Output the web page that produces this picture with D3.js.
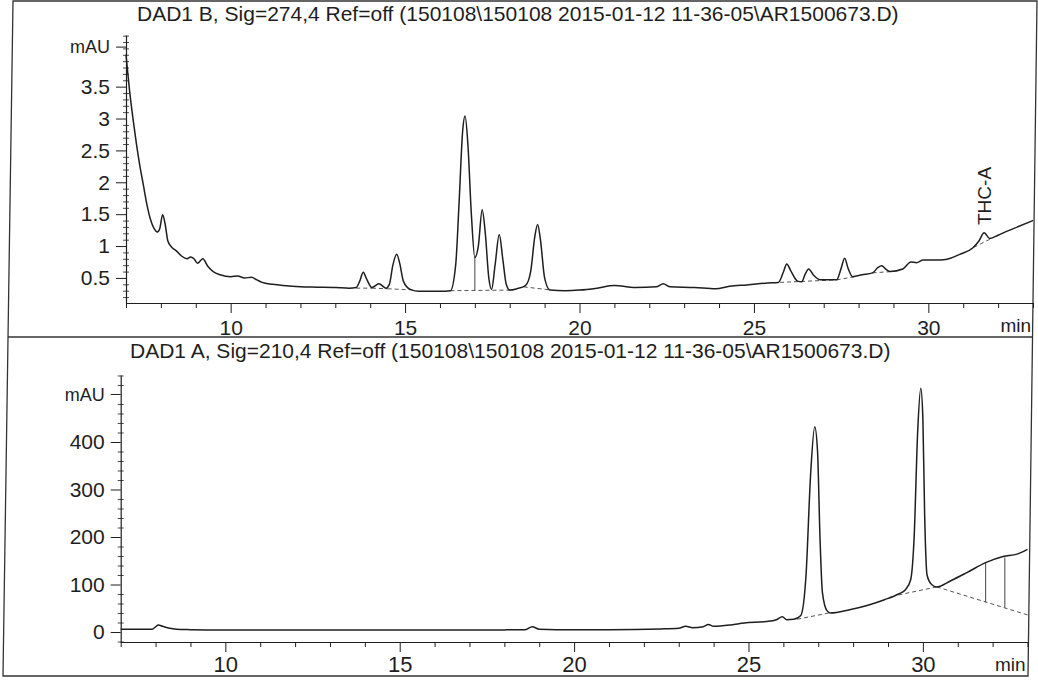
<!DOCTYPE html>
<html>
<head>
<meta charset="utf-8">
<script src="https://cdn.jsdelivr.net/npm/d3@7"></script>
<style>
body{margin:0;background:#fff;}
svg{display:block;font-family:"Liberation Sans",Arial,sans-serif;}
</style>
</head>
<body>
<div id="chart"></div>
<script>
const titleB = "DAD1 B, Sig=274,4 Ref=off (150108\\150108 2015-01-12 11-36-05\\AR1500673.D)";
const titleA = "DAD1 A, Sig=210,4 Ref=off (150108\\150108 2015-01-12 11-36-05\\AR1500673.D)";

// retention time (min), absorbance (mAU) - signal B, 274 nm
const sigB = [[7.0,4.0],[7.05,3.72],[7.1,3.45],[7.2,3.0],[7.3,2.6],[7.4,2.25],[7.5,1.95],[7.6,1.65],[7.7,1.42],[7.8,1.28],[7.9,1.22],[7.97,1.28],[8.05,1.49],[8.12,1.35],[8.2,1.08],[8.3,0.99],[8.45,0.92],[8.6,0.84],[8.75,0.8],[8.85,0.83],[8.95,0.8],[9.05,0.73],[9.2,0.8],[9.35,0.68],[9.5,0.6],[9.7,0.55],[10.0,0.52],[10.2,0.53],[10.4,0.5],[10.6,0.51],[10.75,0.47],[10.9,0.43],[11.2,0.4],[11.5,0.38],[12.0,0.36],[12.5,0.355],[13.0,0.35],[13.4,0.34],[13.6,0.35],[13.7,0.45],[13.8,0.59],[13.9,0.48],[14.05,0.35],[14.25,0.41],[14.45,0.34],[14.55,0.4],[14.65,0.7],[14.76,0.87],[14.85,0.72],[14.95,0.45],[15.15,0.32],[15.4,0.29],[16.0,0.29],[16.3,0.3],[16.45,0.7],[16.55,1.7],[16.65,2.8],[16.72,3.04],[16.8,2.6],[16.9,1.5],[17.0,0.82],[17.1,1.0],[17.21,1.57],[17.3,1.2],[17.4,0.5],[17.48,0.32],[17.58,0.7],[17.7,1.18],[17.8,0.8],[17.9,0.4],[18.0,0.31],[18.2,0.33],[18.45,0.38],[18.6,0.6],[18.72,1.15],[18.8,1.34],[18.88,1.1],[19.0,0.5],[19.15,0.31],[19.6,0.3],[20.0,0.31],[20.5,0.34],[21.0,0.38],[21.6,0.35],[22.2,0.36],[22.4,0.41],[22.6,0.36],[23.3,0.35],[23.9,0.33],[24.3,0.37],[24.8,0.39],[25.4,0.42],[25.7,0.43],[25.85,0.6],[25.94,0.72],[26.05,0.62],[26.25,0.45],[26.37,0.44],[26.47,0.56],[26.57,0.64],[26.7,0.55],[26.9,0.47],[27.37,0.47],[27.5,0.65],[27.6,0.81],[27.7,0.65],[27.83,0.52],[28.1,0.55],[28.4,0.58],[28.55,0.66],[28.66,0.69],[28.8,0.63],[28.9,0.6],[29.27,0.64],[29.5,0.75],[29.66,0.74],[29.85,0.78],[30.2,0.78],[30.5,0.79],[30.9,0.87],[31.27,0.97],[31.45,1.08],[31.6,1.21],[31.76,1.12],[32.0,1.17],[32.24,1.23],[32.6,1.31],[33.0,1.4]];

// signal A, 210 nm
const sigA = [[7.0,6],[7.9,6],[8.0,11],[8.08,15],[8.2,12],[8.4,8],[8.6,6],[9.0,5],[10,4],[12,4],[14,4],[16,4],[18.0,4.5],[18.6,5],[18.8,11],[19.0,6],[19.5,5],[21,5],[22.5,6.5],[23.0,8],[23.2,12],[23.4,9],[23.7,11],[23.85,16],[24.0,12],[24.5,15],[24.88,19],[25.5,22],[25.8,26],[25.97,32],[26.1,26],[26.3,27],[26.5,35],[26.65,120],[26.78,330],[26.9,432],[26.98,380],[27.05,200],[27.12,83],[27.25,45],[27.35,40],[27.9,47],[28.4,56],[28.9,68],[29.3,80],[29.5,89],[29.65,110],[29.75,200],[29.85,420],[29.94,513],[30.0,450],[30.05,250],[30.12,120],[30.25,100],[30.4,95],[30.8,108],[31.26,125],[31.8,146],[32.3,159],[32.7,164],[33.0,174]];

// integration baselines and drop lines
const baseB = [[[13.6,0.34],[14.05,0.34]],[[14.05,0.34],[14.5,0.33]],[[14.5,0.33],[15.3,0.31]],[[16.3,0.3],[18.05,0.31]],[[18.4,0.36],[19.2,0.31]],[[25.75,0.43],[27.37,0.47]],[[27.37,0.47],[27.9,0.52]],[[28.4,0.58],[28.95,0.6]],[[31.3,0.98],[31.85,1.13]]];
const dropB = [[17.0,0.305,0.82]];
const baseA = [[[26.4,27],[27.3,40]],[[29.3,78],[30.4,95]],[[30.4,95],[33.0,36]]];
const dropA = [[31.8,63,146],[32.35,51,157]];

const xTickLabels = [10,15,20,25,30];
const yTicksB = [0.5,1,1.5,2,2.5,3,3.5];
const yTicksA = [0,100,200,300,400];
const peakLabels = [{t:31.6, text:"THC-A"}];

const w = 1038, h = 687;
const svg = d3.select("#chart").append("svg")
  .attr("width", w).attr("height", h);

// scanned frame
svg.append("polygon")
  .attr("points", "13,1 1037,1 1028,676 3,676")
  .attr("fill", "none").attr("stroke", "#333").attr("stroke-width", 1.3);
svg.append("line")
  .attr("x1", 8).attr("x2", 1033).attr("y1", 337).attr("y2", 337)
  .attr("stroke", "#333").attr("stroke-width", 1.3);

function panel(o) {
  const x = d3.scaleLinear().domain([7, 33]).range(o.xr);
  const y = d3.scaleLinear().domain(o.yd).range(o.yr);
  const g = svg.append("g");
  const ink = "#1e1e1e";

  g.append("text").attr("x", o.titleX).attr("y", o.titleY)
    .attr("font-size", 21).attr("fill", ink).text(o.title);

  // x axis
  const xa = g.append("g")
    .attr("transform", "translate(0," + o.yr[0] + ")")
    .call(d3.axisBottom(x).tickValues(d3.range(7, 34)).tickSize(5).tickSizeOuter(0)
      .tickFormat(d => xTickLabels.includes(d) ? d : ""));
  xa.selectAll("line").attr("stroke", ink);
  xa.select(".domain").attr("stroke", ink).attr("stroke-width", 1.2);
  xa.selectAll(".tick").filter(d => d % 5 === 0).select("line").attr("y2", 10);
  xa.selectAll("text").attr("y", o.xLabY).attr("dy", 0)
    .attr("font-size", o.xLabSize).attr("font-family", "Liberation Sans, Arial, sans-serif").attr("fill", ink);
  g.append("text").attr("x", o.xr[1] - 2).attr("y", o.yr[0] + 29)
    .attr("text-anchor", "end").attr("font-size", 19).attr("fill", ink).text("min");

  // y axis
  const ya = g.append("g")
    .attr("transform", "translate(" + o.xr[0] + ",0)")
    .call(d3.axisLeft(y).tickValues(o.yTicks).tickSize(10).tickPadding(6).tickSizeOuter(0)
      .tickFormat(d3.format("~g")));
  ya.selectAll("line").attr("stroke", ink);
  ya.select(".domain").attr("stroke", ink).attr("stroke-width", 1.2);
  ya.selectAll("text").attr("font-size", 21).attr("font-family", "Liberation Sans, Arial, sans-serif").attr("fill", ink);

  const ym = g.append("g")
    .attr("transform", "translate(" + (o.xr[0] + 3) + ",0)")
    .call(d3.axisLeft(y).tickValues(o.minor).tickSize(6).tickFormat(""));
  ym.select(".domain").remove();
  ym.selectAll("line").attr("stroke", ink).attr("stroke-width", 0.8);

  g.append("line").attr("x1", o.xr[0] - 10).attr("x2", o.xr[0])
    .attr("y1", y(o.unitAt)).attr("y2", y(o.unitAt)).attr("stroke", ink);
  g.append("text").attr("x", o.xr[0] - 16).attr("y", y(o.unitAt)).attr("dy", "0.35em")
    .attr("text-anchor", "end").attr("font-size", 18).attr("fill", ink).text("mAU");

  // baselines
  const lineGen = d3.line().x(d => x(d[0])).y(d => y(d[1]));
  g.selectAll(".base").data(o.base).enter().append("path")
    .attr("d", lineGen).attr("fill", "none")
    .attr("stroke", "#555").attr("stroke-width", 1).attr("stroke-dasharray", "4,3");
  g.selectAll(".drop").data(o.drop).enter().append("line")
    .attr("x1", d => x(d[0])).attr("x2", d => x(d[0]))
    .attr("y1", d => y(d[1])).attr("y2", d => y(d[2]))
    .attr("stroke", "#444").attr("stroke-width", 1);

  // trace
  g.append("path").datum(o.data)
    .attr("d", d3.line().curve(d3.curveMonotoneX).x(d => x(d[0])).y(d => y(d[1])))
    .attr("fill", "none").attr("stroke", ink).attr("stroke-width", 1.5);

  return {x, y, g};
}

const pB = panel({
  title: titleB, titleX: 137, titleY: 21,
  xr: [126, 1033], yd: [0.107, 4.31], yr: [303, 35],
  yTicks: yTicksB, minor: d3.range(2, 44).map(d => d / 10).filter(d => !yTicksB.includes(d)),
  unitAt: 4.12, xLabY: 32, xLabSize: 21,
  data: sigB, base: baseB, drop: dropB
});

const pA = panel({
  title: titleA, titleX: 130, titleY: 358,
  xr: [120.7, 1027.5], yd: [-21, 541], yr: [642, 375],
  yTicks: yTicksA, minor: d3.range(-20, 541, 20).filter(d => !yTicksA.includes(d) && d !== 500),
  unitAt: 500, xLabY: 30, xLabSize: 22,
  data: sigA, base: baseA, drop: dropA
});

pB.g.selectAll(".peak").data(peakLabels).enter().append("text")
  .attr("transform", d => "translate(" + (pB.x(d.t) + 7) + "," + 225 + ") rotate(-90)")
  .attr("font-size", 19).attr("fill", "#1e1e1e").text(d => d.text);
</script>
</body>
</html>
